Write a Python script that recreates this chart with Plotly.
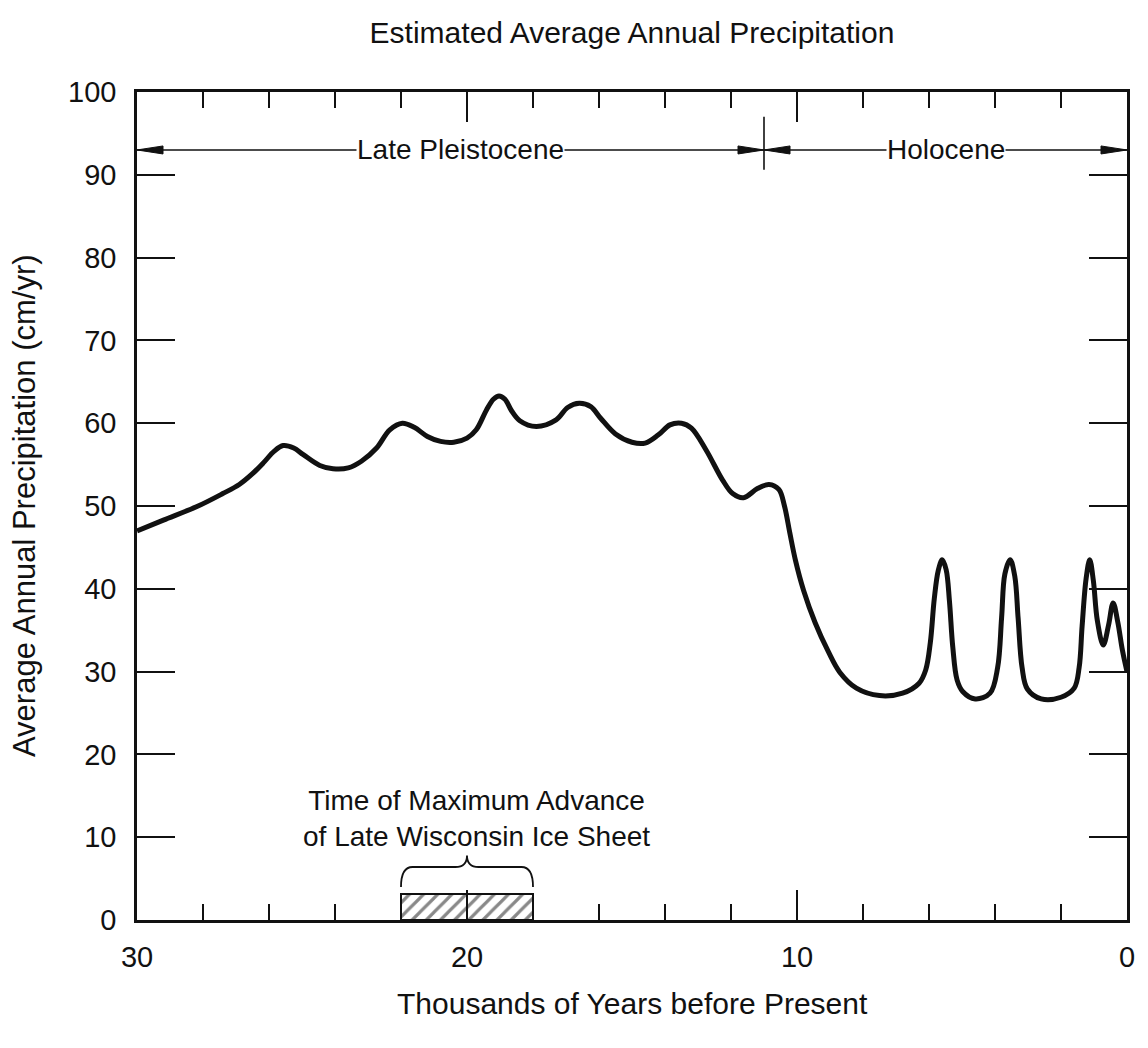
import plotly.graph_objects as go

# Estimated precipitation through time (thousands of years before present, cm/yr)
years_bp = [30.0, 29.2, 28.2, 27.4, 26.9, 26.5, 26.15, 25.85, 25.57, 25.25, 24.96, 24.46,
            24.06, 23.6, 23.2, 22.74, 22.34, 21.96, 21.6, 21.2, 20.8, 20.4, 20.0,
            19.72, 19.41, 19.2, 19.03, 18.85, 18.65, 18.40, 17.90, 17.30, 16.95,
            16.6, 16.25, 15.95, 15.5, 15.0, 14.6, 14.2, 13.85, 13.5, 13.2, 12.76,
            12.25, 11.95, 11.62, 11.2, 10.85, 10.55, 10.38, 10.22, 10.05, 9.8, 9.45,
            9.05, 8.7, 8.2, 7.5, 6.8, 6.3, 6.1, 5.96, 5.84, 5.72, 5.6, 5.48, 5.38,
            5.28, 5.15, 4.98, 4.6, 4.15, 3.92, 3.8, 3.7, 3.54, 3.4, 3.3, 3.18, 3.02,
            2.6, 2.0, 1.6, 1.45, 1.36, 1.24, 1.13, 1.02, 0.9, 0.72, 0.56, 0.42,
            0.28, 0.14, 0.0]
precip = [47.0, 48.3, 49.9, 51.5, 52.6, 53.9, 55.3, 56.6, 57.3, 57.0, 56.2, 54.9,
          54.5, 54.6, 55.4, 57.0, 59.2, 60.0, 59.5, 58.4, 57.8, 57.7, 58.2,
          59.2, 61.6, 62.9, 63.3, 62.9, 61.5, 60.3, 59.6, 60.4, 61.9,
          62.4, 62.0, 60.6, 58.7, 57.7, 57.6, 58.6, 59.8, 60.0, 59.4, 56.8,
          53.1, 51.5, 51.0, 52.1, 52.6, 52.0, 50.0, 46.8, 43.5, 39.8, 35.9,
          32.4, 29.9, 28.0, 27.1, 27.4, 28.6, 30.2, 33.5, 38.8, 42.2, 43.5, 42.3, 38.5,
          33.0, 29.0, 27.6, 26.7, 27.4, 30.5, 36.5, 41.8, 43.5, 41.5, 36.5, 30.5, 27.9,
          26.7, 26.9, 28.0, 30.5, 35.5, 41.2, 43.5, 41.0, 36.2, 33.2, 35.6,
          38.3, 36.0, 32.6, 30.0]

# Geologic periods (start, end in ka BP) and the level of their span arrows
periods = ["Late Pleistocene", "Holocene"]
period_start = [30.0, 11.0]
period_end = [11.0, 0.0]
period_label_x = [20.2, 5.5]
period_y = 93.0

# Late Wisconsin ice sheet maximum advance (ka BP)
ice_start = 22.0
ice_end = 18.0
ice_label = "Time of Maximum Advance<br>of Late Wisconsin Ice Sheet"

FONT = "Liberation Sans, Arial, Helvetica, sans-serif"
INK = "#111111"

fig = go.Figure()

# Hatched bar marking the ice-sheet maximum
fig.add_trace(go.Bar(
    x=[(ice_start + ice_end) / 2], y=[3.2], width=[ice_start - ice_end],
    marker=dict(color="white", line=dict(color=INK, width=2),
                pattern=dict(shape="/", fgcolor=INK, bgcolor="white",
                             size=10, solidity=0.32)),
    showlegend=False, hoverinfo="skip"))

# Precipitation curve
fig.add_trace(go.Scatter(
    x=years_bp, y=precip, mode="lines",
    line=dict(color=INK, width=5, shape="spline", smoothing=1.0),
    showlegend=False))

shapes = []
annotations = []

# Period span arrows
for name, s, e, lx in zip(periods, period_start, period_end, period_label_x):
    shapes.append(dict(type="line", xref="x", yref="y", x0=s, x1=e,
                       y0=period_y, y1=period_y, line=dict(color=INK, width=1.6)))
    # arrowhead at the older end (points left on screen)
    shapes.append(dict(type="path", xref="x", yref="y", xsizemode="pixel",
                       ysizemode="pixel", xanchor=s, yanchor=period_y,
                       path="M0,0 L26,4 L26,-4 Z", fillcolor=INK,
                       line=dict(color=INK, width=1)))
    # arrowhead at the younger end (points right on screen)
    shapes.append(dict(type="path", xref="x", yref="y", xsizemode="pixel",
                       ysizemode="pixel", xanchor=e, yanchor=period_y,
                       path="M0,0 L-26,4 L-26,-4 Z", fillcolor=INK,
                       line=dict(color=INK, width=1)))
    annotations.append(dict(x=lx, y=period_y, xref="x", yref="y", text=name,
                            showarrow=False, bgcolor="white", borderpad=0,
                            font=dict(family=FONT, size=28, color=INK)))

# Boundary tick between the periods
shapes.append(dict(type="line", xref="x", yref="y", x0=period_end[0], x1=period_end[0],
                   y0=90.6, y1=97.0, line=dict(color=INK, width=1.6)))

# Curly brace over the ice-sheet bar
xm = (ice_start + ice_end) / 2
yb, yh, yt = 4.0, 6.4, 7.8
r = 0.35
brace = (f"M{ice_start},{yb} Q{ice_start},{yh} {ice_start - r},{yh} "
         f"L{xm + r},{yh} Q{xm},{yh} {xm},{yt} Q{xm},{yh} {xm - r},{yh} "
         f"L{ice_end + r},{yh} Q{ice_end},{yh} {ice_end},{yb}")
shapes.append(dict(type="path", xref="x", yref="y", path=brace,
                   line=dict(color=INK, width=1.8)))

annotations.append(dict(x=19.7, y=12.2, xref="x", yref="y", text=ice_label,
                        showarrow=False, align="center",
                        font=dict(family=FONT, size=28, color=INK)))

# Axis titles
annotations.append(dict(x=0.5, y=0, xref="paper", yref="paper", yshift=-83,
                        text="Thousands of Years before Present", showarrow=False,
                        yanchor="middle", font=dict(family=FONT, size=30, color=INK)))
annotations.append(dict(x=0, y=0.5, xref="paper", yref="paper", xshift=-113,
                        text="Average Annual Precipitation (cm/yr)", showarrow=False,
                        textangle=-90, xanchor="center",
                        font=dict(family=FONT, size=31, color=INK)))

fig.update_layout(
    width=1148, height=1048,
    margin=dict(l=137, r=21, t=92, b=128),
    paper_bgcolor="white", plot_bgcolor="white",
    title=dict(text="Estimated Average Annual Precipitation", x=0.5, xref="paper",
               y=1 - 32 / 1048, yanchor="middle",
               font=dict(family=FONT, size=30, color=INK)),
    shapes=shapes, annotations=annotations,
    bargap=0, showlegend=False,
)

fig.update_xaxes(
    range=[30, 0], tickvals=[30, 20, 10, 0], ticks="inside", ticklen=30,
    tickwidth=2, tickcolor=INK, showline=True, linewidth=2.5, linecolor=INK,
    mirror="ticks", showgrid=False, zeroline=False,
    minor=dict(dtick=2, ticks="inside", ticklen=16, tickwidth=2, tickcolor=INK,
               showgrid=False),
    tickfont=dict(family=FONT, size=29, color=INK), ticklabelstandoff=9,
)
fig.update_yaxes(
    range=[0, 100], dtick=10, ticks="inside", ticklen=38, tickwidth=2,
    tickcolor=INK, showline=True, linewidth=2.5, linecolor=INK, mirror="ticks",
    showgrid=False, zeroline=False,
    tickfont=dict(family=FONT, size=29, color=INK), ticklabelstandoff=12,
)

fig.write_html("out.html")
